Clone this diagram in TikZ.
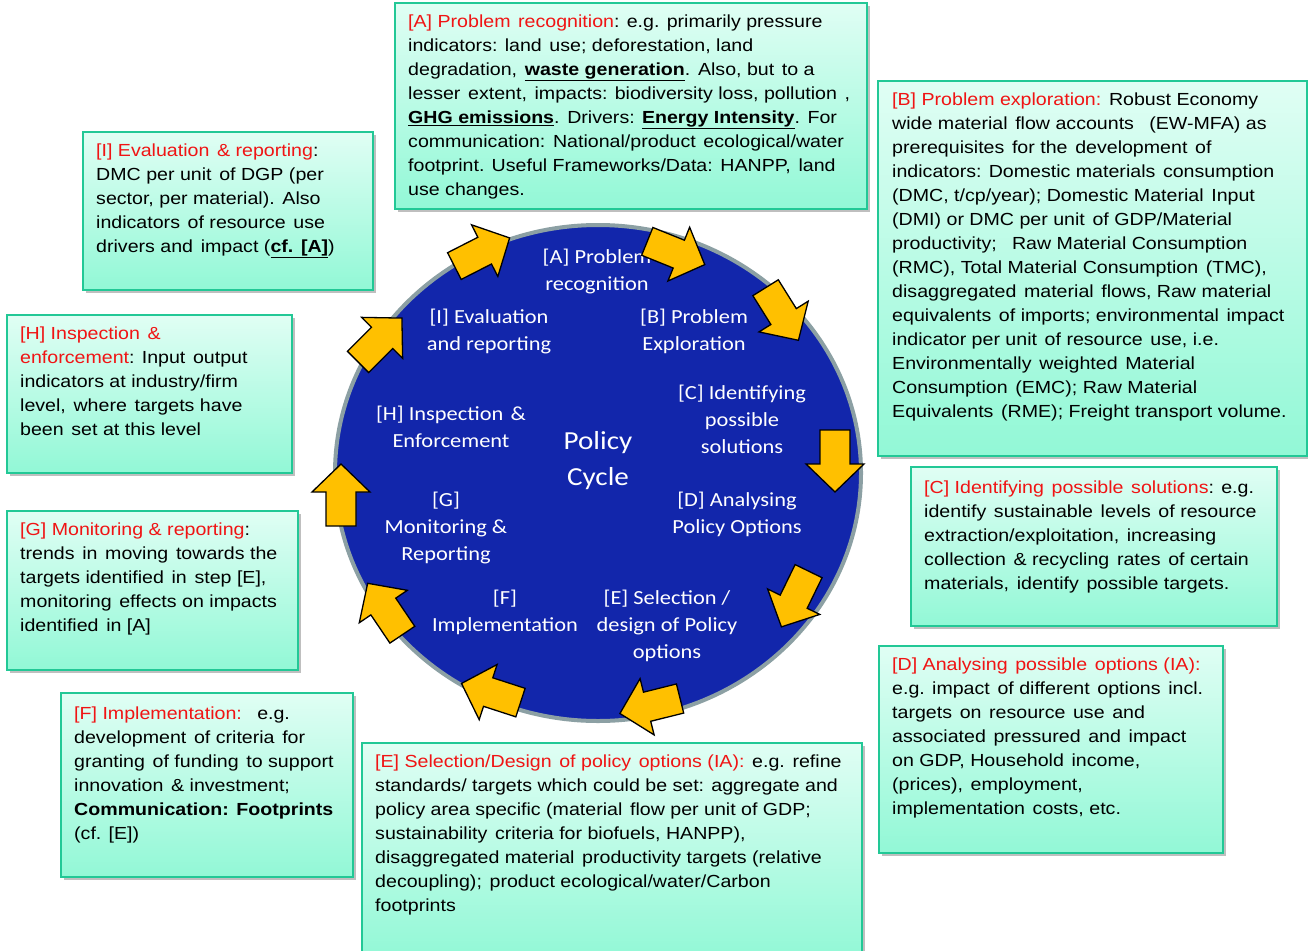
\documentclass[tikz,border=0pt]{standalone}
\usepackage{fontspec}
\setmainfont{Liberation Sans}[FakeStretch=1.12]
\newfontfamily\carl{Carlito}[FakeStretch=1.12]
\usetikzlibrary{shadows,shapes.geometric}
\definecolor{boxtop}{RGB}{224,254,244}
\definecolor{boxbot}{RGB}{146,248,214}
\definecolor{boxline}{RGB}{34,200,150}
\definecolor{cfill}{RGB}{18,38,171}
\definecolor{cline}{RGB}{140,160,164}
\definecolor{arrfill}{RGB}{255,192,0}
\definecolor{hred}{RGB}{240,20,20}
\newcommand\hd[1]{\textcolor{hred}{#1}}
\newcommand\ubf[1]{\underline{\textbf{#1}}}
\newcommand\xs{\hspace{2.2pt}\ }
\newcommand\cyclearrow[3]{\draw[blockarrow, shift={(#1,#2)}, rotate=#3] (-31,-15) -- (3,-15) -- (3,-29) -- (31,0) -- (3,29) -- (3,15) -- (-31,15) -- cycle;}
\tikzset{
 infobox/.style={draw=boxline, line width=2pt, top color=boxtop, bottom color=boxbot,
   drop shadow={shadow xshift=3pt, shadow yshift=-3pt, opacity=0.25, fill=black},
   anchor=north west, inner sep=0pt, rectangle},
 boxtext/.style={anchor=north west, inner sep=0pt, align=left, font=\fontsize{17.5}{24}\selectfont, text=black},
 cycletext/.style={inner sep=0pt, align=center, text=white, font=\carl\fontsize{20}{27}\selectfont},
 blockarrow/.style={draw=black, line width=1.3pt, fill=arrfill, line join=miter},
}
\begin{document}
\begin{tikzpicture}[x=1pt,y=-1pt]
\useasboundingbox (0,0) rectangle (1308,950);
\clip (0,0) rectangle (1308,950);
\fill[white] (0,0) rectangle (1308,950);

% info boxes
\node[infobox, minimum width=472pt, minimum height=206pt] (bA) at (394,2) {};
\node[infobox, minimum width=429pt, minimum height=375pt] (bB) at (877,80) {};
\node[infobox, minimum width=290pt, minimum height=158pt] (bI) at (82,131) {};
\node[infobox, minimum width=285pt, minimum height=158pt] (bH) at (6,314) {};
\node[infobox, minimum width=366pt, minimum height=159pt] (bC) at (910,466) {};
\node[infobox, minimum width=291pt, minimum height=159pt] (bG) at (6,510) {};
\node[infobox, minimum width=344pt, minimum height=207pt] (bD) at (878,645) {};
\node[infobox, minimum width=292pt, minimum height=184pt] (bF) at (60,692) {};
\node[infobox, minimum width=500pt, minimum height=215pt] (bE) at (361,742) {};

\node[boxtext] (tA) at (408,10.5) {\strut\hd{[A] Problem\xs recognition}: e.g. primarily pressure\\
indicators: land\xs use; deforestation, land\\
degradation,\xs \ubf{waste generation}.\xs Also, but\xs to a\\
lesser\xs extent,\xs impacts: biodiversity loss, pollution\xs ,\\
\ubf{GHG emissions}.\xs Drivers: \ubf{Energy Intensity}.\xs For\\
communication:\xs National/product\xs ecological/water\\
footprint. Useful Frameworks/Data:\xs HANPP,\xs land\\
use changes.};

\node[boxtext] (tB) at (892,88.5) {\strut\hd{[B] Problem exploration:}\xs Robust Economy\\
wide material\xs flow accounts\xs\xs (EW-MFA) as\\
prerequisites\xs for the\xs development\xs of\\
indicators: Domestic materials\xs consumption\\
(DMC, t/cp/year); Domestic Material\xs Input\\
(DMI) or DMC per unit\xs of GDP/Material\\
productivity;\xs\xs Raw Material Consumption\\
(RMC), Total Material Consumption\xs (TMC),\\
disaggregated\xs material\xs flows, Raw material\\
equivalents\xs of imports; environmental\xs impact\\
indicator per unit\xs of resource\xs use, i.e.\\
Environmentally\xs weighted\xs Material\\
Consumption\xs (EMC); Raw Material\\
Equivalents\xs (RME); Freight transport volume.};

\node[boxtext] (tI) at (96,139.5) {\strut\hd{[I] Evaluation\xs \& reporting}:\\
DMC per unit\xs of DGP (per\\
sector, per material).\xs Also\\
indicators\xs of resource\xs use\\
drivers and\xs impact (\ubf{cf.\xs [A]})};

\node[boxtext] (tH) at (20,322.5) {\strut\hd{[H] Inspection\xs \&}\\
\hd{enforcement}: Input\xs output\\
indicators at industry/firm\\
level,\xs where\xs targets have\\
been\xs set at this level};

\node[boxtext] (tC) at (924,476.5) {\strut\hd{[C] Identifying\xs possible\xs solutions}: e.g.\\
identify\xs sustainable\xs levels\xs of resource\\
extraction/exploitation,\xs increasing\\
collection\xs \& recycling\xs rates\xs of certain\\
materials,\xs identify\xs possible targets.};

\node[boxtext] (tG) at (20,518.5) {\strut\hd{[G] Monitoring \& reporting}:\\
trends\xs in\xs moving\xs towards the\\
targets identified\xs in\xs step [E],\\
monitoring\xs effects on impacts\\
identified\xs in [A]};

\node[boxtext] (tD) at (892,653.5) {\strut\hd{[D] Analysing\xs possible\xs options (IA):}\\
e.g. impact\xs of different\xs options\xs incl.\\
targets\xs on\xs resource\xs use\xs and\\
associated\xs pressured\xs and\xs impact\\
on GDP, Household\xs income,\\
(prices),\xs employment,\\
implementation\xs costs, etc.};

\node[boxtext] (tF) at (74,702.5) {\strut\hd{[F] Implementation:}\xs\xs e.g.\\
development\xs of criteria\xs for\\
granting\xs of funding\xs to support\\
innovation\xs \& investment;\\
\textbf{Communication:\xs Footprints}\\
(cf. [E])};

\node[boxtext] (tE) at (375,750.5) {\strut\hd{[E] Selection/Design\xs of policy\xs options (IA):}\xs e.g.\xs refine\\
standards/ targets which could be set: aggregate and\\
policy area specific (material\xs flow per unit of GDP;\\
sustainability\xs criteria for biofuels, HANPP),\\
disaggregated material\xs productivity targets (relative\\
decoupling);\xs product ecological/water/Carbon\\
footprints};

% central cycle
\node[ellipse, draw=cline, line width=4pt, fill=cfill, inner sep=0pt,
      minimum width=526pt, minimum height=496pt] (cyc) at (598,473) {};

\node[cycletext] (cA) at (597,271.5) {\strut[A] Problem\\recognition\strut};
\node[cycletext] (cI) at (489,331.5) {\strut[I] Evaluation\\and reporting\strut};
\node[cycletext] (cB) at (694,331.5) {\strut[B] Problem\\Exploration\strut};
\node[cycletext] (cC) at (742,421) {\strut[C] Identifying\\possible\\solutions\strut};
\node[cycletext] (cH) at (451,428.5) {\strut[H] Inspection\xs \&\\Enforcement\strut};
\node[cycletext, font=\carl\fontsize{26}{36}\selectfont] (cP) at (598,460) {\strut Policy\\Cycle\strut};
\node[cycletext] (cG) at (446,528) {\strut[G]\\Monitoring \&\\Reporting\strut};
\node[cycletext] (cD) at (737,514.5) {\strut[D] Analysing\\Policy Options\strut};
\node[cycletext] (cF) at (505,612.5) {\strut[F]\\Implementation\strut};
\node[cycletext] (cE) at (667,626) {\strut[E] Selection /\\design of Policy\\options\strut};

% cycle arrows
\cyclearrow{482}{252}{27}
\cyclearrow{676}{253}{-22}
\cyclearrow{782}{314}{-58}
\cyclearrow{835}{461}{-90}
\cyclearrow{795}{599}{-116}
\cyclearrow{650}{706}{-166}
\cyclearrow{491}{693}{162}
\cyclearrow{385}{609}{124}
\cyclearrow{341}{495}{90}
\cyclearrow{380}{340}{45}
\end{tikzpicture}
\end{document}
